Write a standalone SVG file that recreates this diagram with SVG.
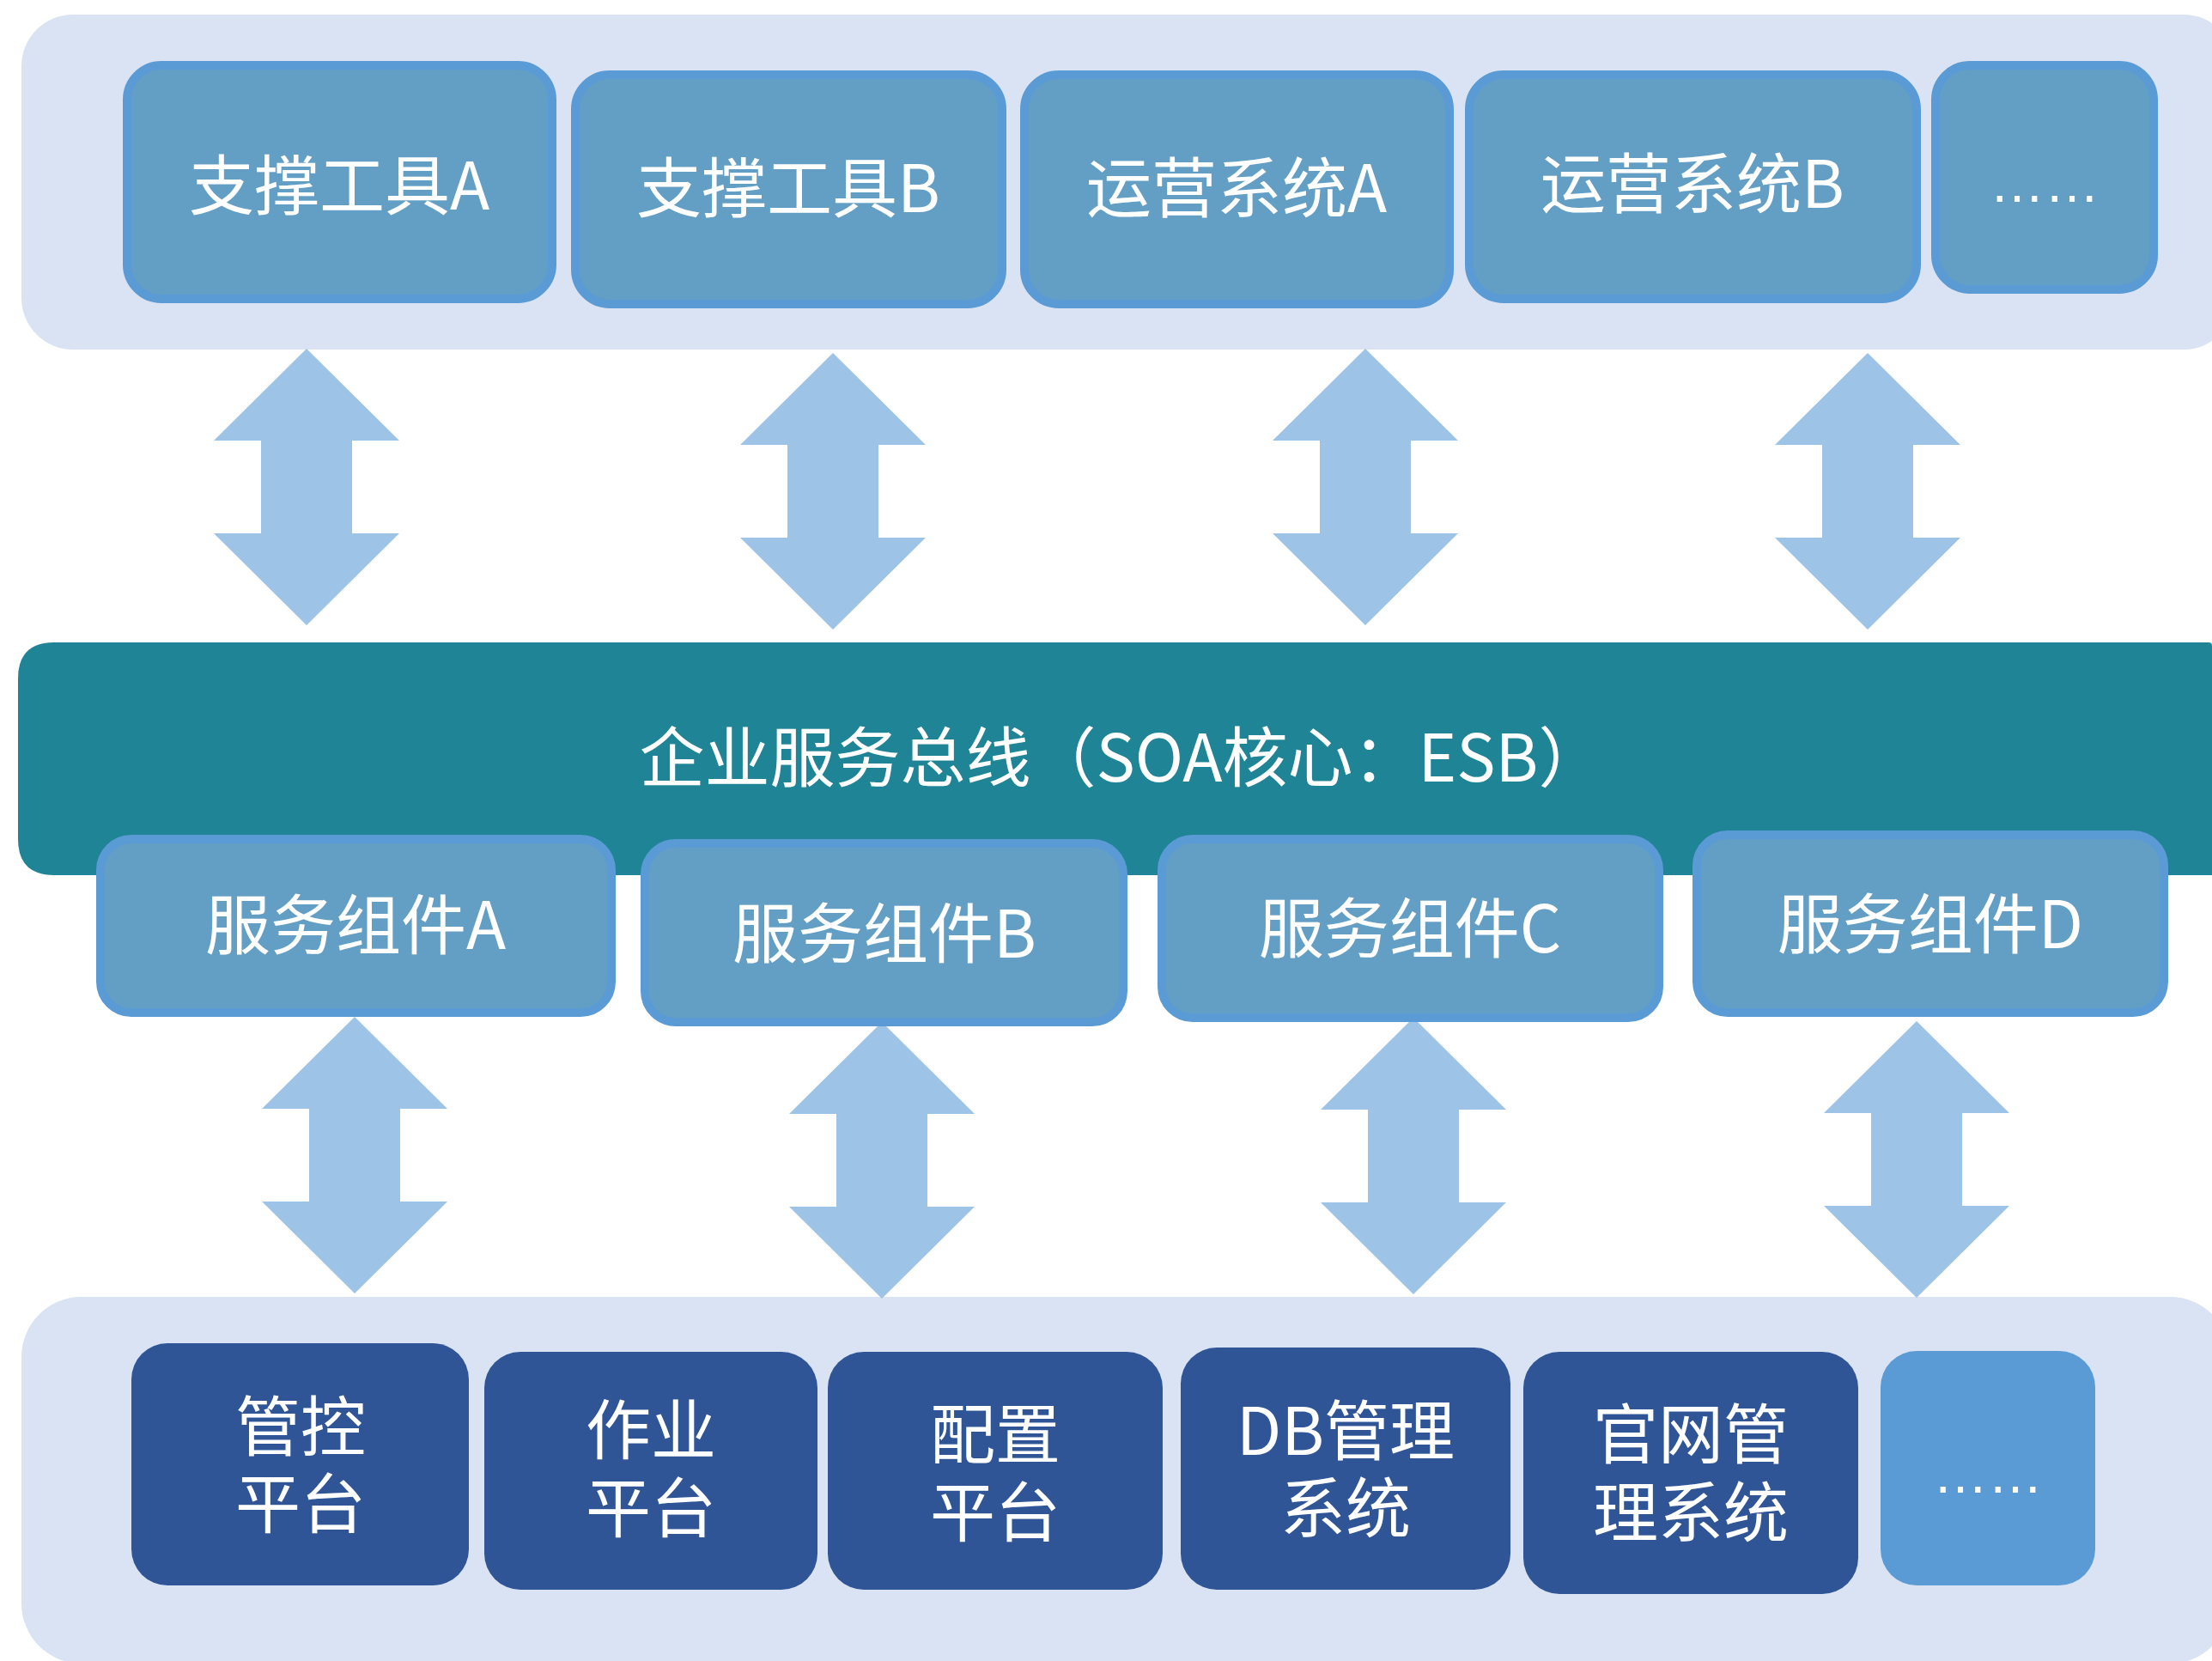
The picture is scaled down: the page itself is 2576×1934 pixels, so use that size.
<svg xmlns="http://www.w3.org/2000/svg" xmlns:xlink="http://www.w3.org/1999/xlink" width="2576" height="1934" viewBox="0 0 2576 1934">
<style>
.panel{fill:#dae3f3}
.app{fill:#639ec4;stroke:#5b9bd5;stroke-width:10}
.dark{fill:#2f5597}
.light{fill:#5b9bd5}
.esb{fill:#1f8496}
.arr{fill:#9dc3e6}
.t{font-family:"Noto Sans CJK SC","Liberation Sans",sans-serif;font-size:76px;fill:#ffffff;text-anchor:middle}
.dots{font-family:"Liberation Sans",sans-serif;font-size:64px;fill:#ffffff;text-anchor:middle}
</style>
<defs>
<path id="dbl" d="M0,0 L108,107 L53,107 L53,215 L108,215 L0,322 L-108,215 L-53,215 L-53,107 L-108,107 Z"/>
</defs>
<rect width="2576" height="1934" fill="#ffffff"/>
<g id="top-layer">
<rect class="panel" x="25" y="17" width="2578" height="390" rx="60" ry="60"/>
</g>
<g id="bottom-layer">
<rect class="panel" x="25" y="1510" width="2572" height="427" rx="70" ry="70"/>
</g>
<g id="connectors">
<use href="#dbl" class="arr" x="357" y="406"/>
<use href="#dbl" class="arr" x="970" y="411"/>
<use href="#dbl" class="arr" x="1590" y="406"/>
<use href="#dbl" class="arr" x="2175" y="411"/>
<use href="#dbl" class="arr" x="413" y="1184"/>
<use href="#dbl" class="arr" x="1027" y="1190"/>
<use href="#dbl" class="arr" x="1646" y="1185"/>
<use href="#dbl" class="arr" x="2232" y="1189"/>
</g>
<g id="esb">
<path class="esb" d="M63,748 L2572,748 Q2576,748 2576,752 L2576,1019 L63,1019 Q21,1019 21,977 L21,790 Q21,748 63,748 Z"/>
<text class="t" x="1306" y="910">企业服务总线（SOA核心：ESB）</text>
</g>
<g id="tool-a">
<rect class="app" x="148" y="76" width="495" height="272" rx="40"/>
<text class="t" x="395" y="244">支撑工具A</text>
</g>
<g id="tool-b">
<rect class="app" x="670" y="87" width="497" height="267" rx="40"/>
<text class="t" x="918" y="247">支撑工具B</text>
</g>
<g id="ops-a">
<rect class="app" x="1193" y="87" width="495" height="267" rx="40"/>
<text class="t" x="1440" y="247">运营系统A</text>
</g>
<g id="ops-b">
<rect class="app" x="1711" y="87" width="521" height="261" rx="40"/>
<text class="t" x="1971" y="242">运营系统B</text>
</g>
<g id="top-more">
<rect class="app" x="2254" y="76" width="254" height="261" rx="40"/>
<text class="dots" x="2381" y="235">……</text>
</g>
<g id="svc-a">
<rect class="app" x="117" y="977" width="595" height="202" rx="36"/>
<text class="t" x="414" y="1105">服务组件A</text>
</g>
<g id="svc-b">
<rect class="app" x="751" y="982" width="557" height="208" rx="36"/>
<text class="t" x="1030" y="1115">服务组件B</text>
</g>
<g id="svc-c">
<rect class="app" x="1353" y="977" width="579" height="208" rx="36"/>
<text class="t" x="1642" y="1109">服务组件C</text>
</g>
<g id="svc-d">
<rect class="app" x="1976" y="972" width="544" height="207" rx="36"/>
<text class="t" x="2248" y="1104">服务组件D</text>
</g>
<g id="plat-control">
<rect class="dark" x="153" y="1564" width="393" height="282" rx="42"/>
<text class="t" x="350" y="1689">管控<tspan x="350" dy="90">平台</tspan></text>
</g>
<g id="plat-job">
<rect class="dark" x="564" y="1574" width="388" height="277" rx="42"/>
<text class="t" x="758" y="1693">作业<tspan x="758" dy="91">平台</tspan></text>
</g>
<g id="plat-config">
<rect class="dark" x="964" y="1574" width="390" height="277" rx="42"/>
<text class="t" x="1159" y="1698">配置<tspan x="1159" dy="91">平台</tspan></text>
</g>
<g id="db-mgmt">
<rect class="dark" x="1375" y="1569" width="384" height="282" rx="42"/>
<text class="t" x="1567" y="1694">DB管理<tspan x="1567" dy="90">系统</tspan></text>
</g>
<g id="web-mgmt">
<rect class="dark" x="1774" y="1574" width="390" height="282" rx="42"/>
<text class="t" x="1969" y="1698">官网管<tspan x="1969" dy="91">理系统</tspan></text>
</g>
<g id="bottom-more">
<rect class="light" x="2190" y="1573" width="250" height="273" rx="42"/>
<text class="dots" x="2315" y="1738">……</text>
</g>
</svg>
